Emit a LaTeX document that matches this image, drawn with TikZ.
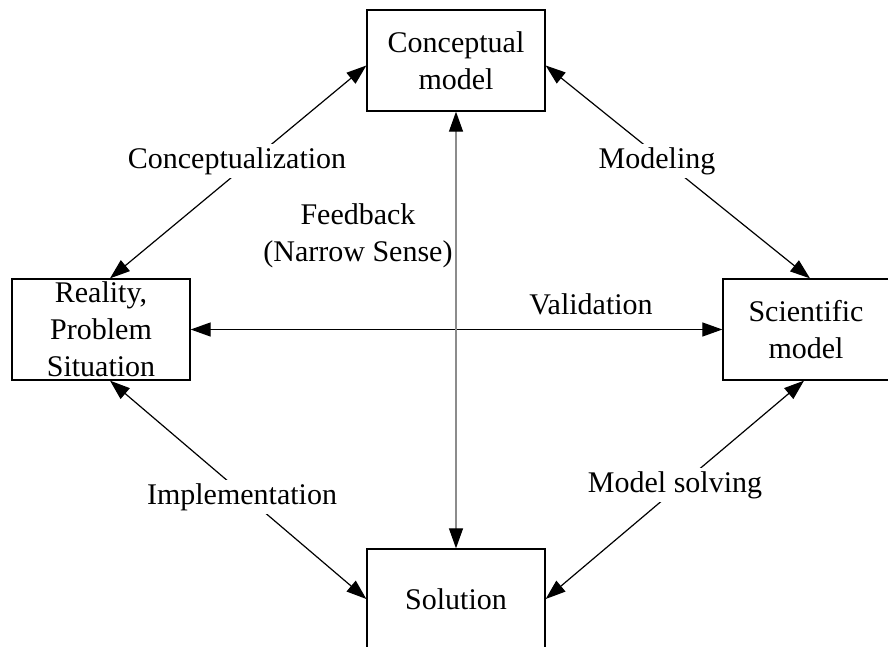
\documentclass[tikz,border=0pt]{standalone}
\usepackage{fontspec}
\setmainfont{Liberation Serif}
\usetikzlibrary{arrows.meta}
\begin{document}
\begin{tikzpicture}[x=1pt,y=-1pt,
 box/.style={draw, line width=1.3pt, inner sep=0pt, align=center, font=\fontsize{30}{37}\selectfont},
 lbl/.style={align=center, font=\fontsize{30}{37}\selectfont, inner sep=3pt, fill=white},
 tip/.tip={Triangle[length=20pt,width=14pt,color=black]},
 link/.style={line width=1.2pt, tip-tip},
]
\useasboundingbox (0,0) rectangle (888,647);
\clip (0,0) rectangle (888,647);
\node[box, minimum width=178pt, minimum height=101pt] (concept) at (456,60.5) {Conceptual\\model};
\node[box, minimum width=178pt, minimum height=101pt] (reality) at (101,329.5) {Reality,\\Problem\\Situation};
\node[box, minimum width=166pt, minimum height=101pt] (science) at (806,329.5) {Scientific\\model};
\node[box, minimum width=178pt, minimum height=100pt] (solution) at (456,599) {Solution};

\draw[link] ([yshift=-5pt]concept.west) -- ([xshift=9pt]reality.north);
\draw[link] ([yshift=-5pt]concept.east) -- ([xshift=4pt]science.north);
\draw[link] ([xshift=9pt]reality.south) -- (solution.west);
\draw[link] (solution.east) -- ([xshift=-2pt]science.south);
\draw[link] (reality.east) -- (science.west);
\draw[link, draw=gray!90] (concept.south) -- (solution.north);

\node[lbl] (l1) at (237,161) {Conceptualization};
\node[lbl] (l2) at (657,161) {Modeling};
\node[lbl, fill=none] (l3) at (358,236) {Feedback\\(Narrow Sense)};
\node[lbl] (l4) at (591,304) {Validation};
\node[lbl] (l5) at (242,497) {Implementation};
\node[lbl] (l6) at (675,485) {Model solving};
\end{tikzpicture}
\end{document}
